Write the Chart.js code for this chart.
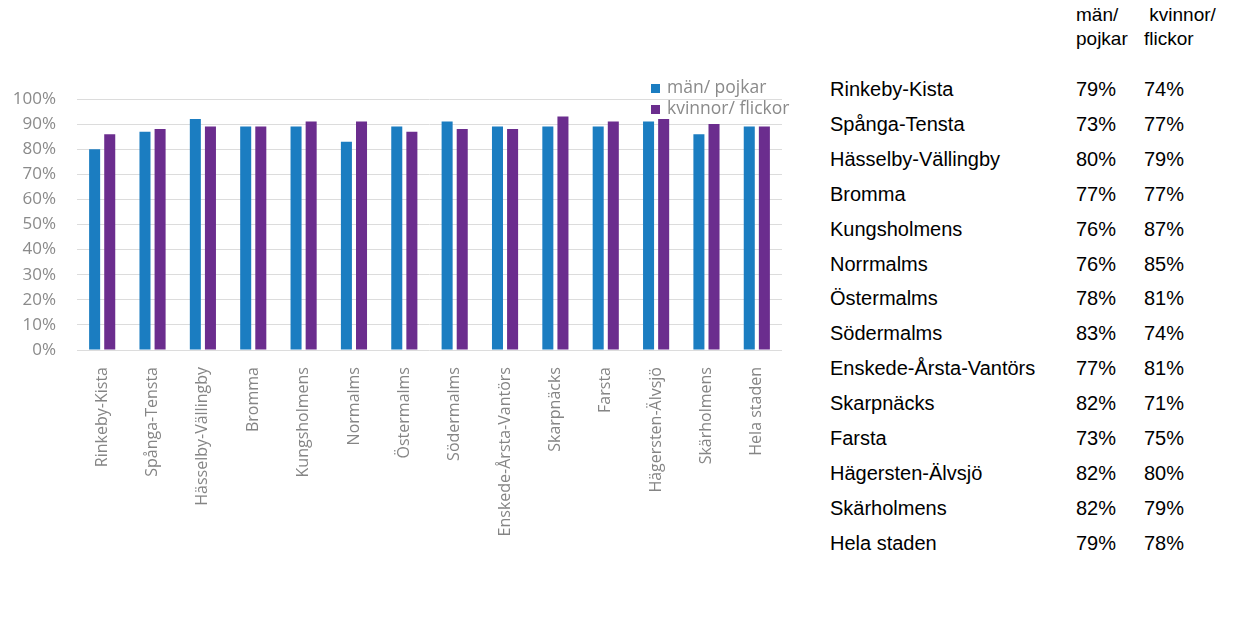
<!DOCTYPE html>
<html>
<head>
<meta charset="utf-8">
<script src="https://cdn.jsdelivr.net/npm/chart.js@4.4.1/dist/chart.umd.min.js"></script>
<style>
    body { margin: 0; background: #fff; }
    #wrap { position: relative; width: 1252px; height: 623px; overflow: hidden; }
    #chartBox { position: absolute; left: 0; top: 0; width: 810px; height: 623px; }
    .cell {
        position: absolute;
        font-family: "Liberation Sans", Arial, sans-serif;
        font-size: 20px;
        line-height: 24px;
        color: #000;
        white-space: pre;
    }
    .head { font-size: 19px; line-height: 24px; }
</style>
</head>
<body>
<div id="wrap">
    <div id="chartBox"><canvas id="barChart"></canvas></div>
    <div id="table"></div>
</div>
<script>
// Chart data
const categories = ["Rinkeby-Kista", "Spånga-Tensta", "Hässelby-Vällingby", "Bromma", "Kungsholmens",
    "Normalms", "Östermalms", "Södermalms", "Enskede-Årsta-Vantörs", "Skarpnäcks", "Farsta",
    "Hägersten-Älvsjö", "Skärholmens", "Hela staden"];
const menValues = [80, 87, 92, 89, 89, 83, 89, 91, 89, 89, 89, 91, 86, 89];
const womenValues = [86, 88, 89, 89, 91, 91, 87, 88, 88, 93, 91, 92, 90, 89];
const seriesNames = ["män/ pojkar", "kvinnor/ flickor"];
const seriesColors = ["#1b7dc1", "#6b2d8e"];
const yTicks = [0, 10, 20, 30, 40, 50, 60, 70, 80, 90, 100];

// Table on the right
const tableHeader = ["män/\npojkar", " kvinnor/\nflickor"];
const tableRows = ["Rinkeby-Kista", "Spånga-Tensta", "Hässelby-Vällingby", "Bromma", "Kungsholmens",
    "Norrmalms", "Östermalms", "Södermalms", "Enskede-Årsta-Vantörs", "Skarpnäcks", "Farsta",
    "Hägersten-Älvsjö", "Skärholmens", "Hela staden"];
const tableMen = ["79%", "73%", "80%", "77%", "76%", "76%", "78%", "83%", "77%", "82%", "73%", "82%", "82%", "79%"];
const tableWomen = ["74%", "77%", "79%", "77%", "87%", "85%", "81%", "74%", "81%", "71%", "75%", "80%", "79%", "78%"];

document.addEventListener("DOMContentLoaded", () => {
    const table = document.getElementById("table");
    const colX = [830, 1076, 1144];

    function addCell(text, x, y, cls) {
        const d = document.createElement("div");
        d.className = cls ? "cell " + cls : "cell";
        d.style.left = x + "px";
        d.style.top = y + "px";
        d.textContent = text;
        table.appendChild(d);
    }

    addCell(tableHeader[0], colX[1], 3, "head");
    addCell(tableHeader[1], colX[2], 3, "head");
    tableRows.forEach((name, i) => {
        const y = 77 + i * 34.9;
        addCell(name, colX[0], y);
        addCell(tableMen[i], colX[1], y);
        addCell(tableWomen[i], colX[2], y);
    });

    // legend drawn inside the plot, top right, stacked
    const cornerLegend = {
        id: "cornerLegend",
        afterDraw(chart) {
            const ctx = chart.ctx;
            const area = chart.chartArea;
            ctx.save();
            ctx.font = "17.5px 'Open Sans'";
            ctx.textBaseline = "middle";
            chart.data.datasets.forEach((ds, i) => {
                const y = area.top - 11 + i * 21;
                ctx.fillStyle = ds.backgroundColor;
                ctx.fillRect(area.right - 131, y - 4, 9, 9);
                ctx.fillStyle = "#8a8a8a";
                ctx.fillText(ds.label, area.right - 115, y);
            });
            ctx.restore();
        }
    };

    const ctx = document.getElementById("barChart").getContext("2d");
    new Chart(ctx, {
        type: "bar",
        data: {
            labels: categories,
            datasets: [
                { label: seriesNames[0], data: menValues, backgroundColor: seriesColors[0] },
                { label: seriesNames[1], data: womenValues, backgroundColor: seriesColors[1] }
            ]
        },
        options: {
            responsive: true,
            maintainAspectRatio: false,
            animation: false,
            categoryPercentage: 0.6,
            barPercentage: 0.73,
            layout: { padding: { top: 99, right: 28, left: 0, bottom: 0 } },
            plugins: {
                legend: { display: false },
                tooltip: { enabled: false }
            },
            scales: {
                x: {
                    grid: { display: false },
                    border: { display: false },
                    ticks: {
                        autoSkip: false,
                        minRotation: 90,
                        maxRotation: 90,
                        padding: 9,
                        color: "#858585",
                        font: { family: "Open Sans", size: 16 }
                    },
                    afterFit(scale) { scale.height = 273; }
                },
                y: {
                    min: 0,
                    max: 100,
                    afterBuildTicks(scale) { scale.ticks = yTicks.map(v => ({ value: v })); },
                    grid: { color: "#dcdcdc", drawTicks: false },
                    border: { display: false },
                    ticks: {
                        padding: 21,
                        color: "#8a8a8a",
                        font: { family: "Open Sans", size: 17 },
                        callback: v => v + "%"
                    },
                    afterFit(scale) { scale.width = 77; }
                }
            }
        },
        plugins: [cornerLegend]
    });
});
</script>
</body>
</html>
